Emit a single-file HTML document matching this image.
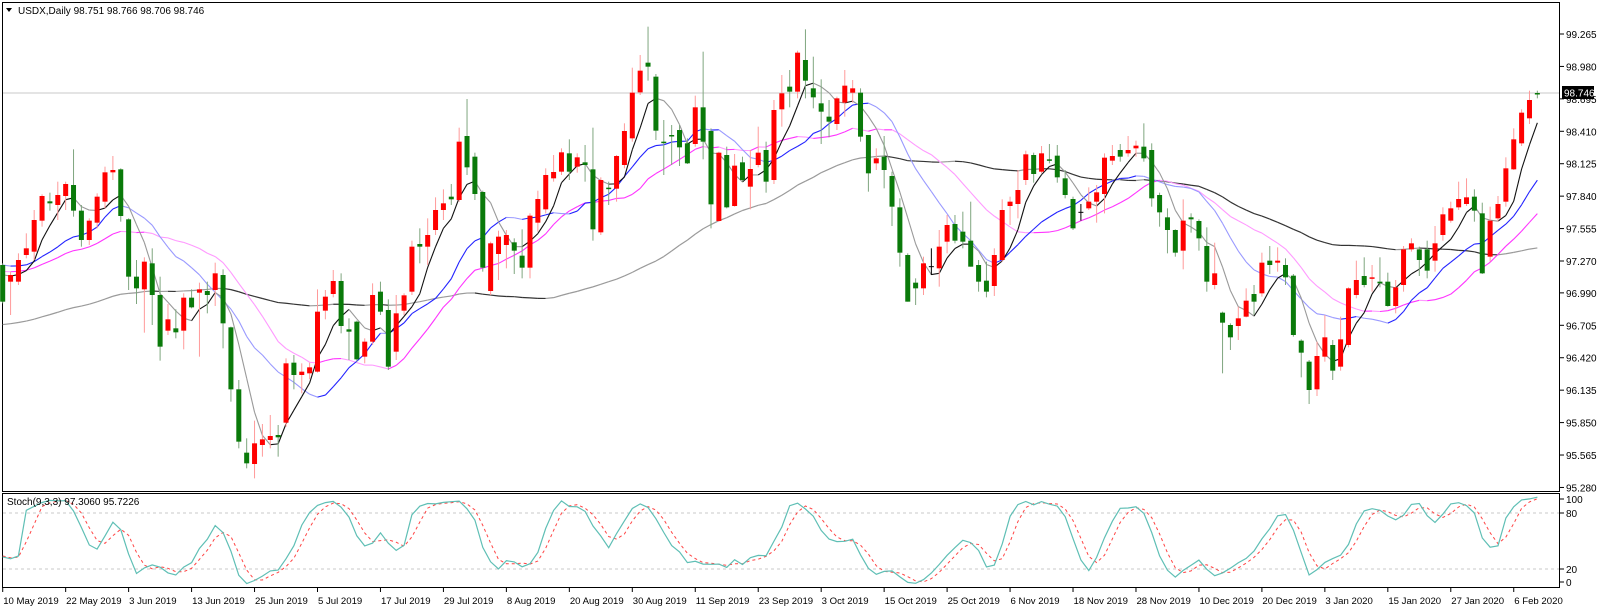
<!DOCTYPE html>
<html><head><meta charset="utf-8">
<style>
html,body{margin:0;padding:0;background:#fff;}
svg{display:block;}
text{font-family:"Liberation Sans",sans-serif;}
</style></head>
<body>
<svg id="c" width="1600" height="609" xmlns="http://www.w3.org/2000/svg"></svg>
<script>
var D=[795,905,790,910, 845,825,815,945, 845,780,760,855, 765,745,700,775, 755,660,630,780, 662,588,583,680, 604,610,578,632, 615,585,545,660, 588,552,545,630, 555,632,448,650,
632,720,615,740, 720,662,655,735, 668,590,580,685, 605,517,500,625, 517,510,468,540, 508,648,505,665, 658,830,655,870, 830,865,780,912, 868,785,772,998, 790,885,745,975,
885,1040,830,1082, 992,958,912,1005, 985,997,928,1015, 992,893,880,1048, 893,922,868,925, 878,868,848,1070, 873,885,845,940, 870,820,788,918, 825,970,808,1045, 982,1168,980,1205,
1168,1325,1140,1345, 1358,1390,1315,1405, 1392,1330,1262,1435, 1335,1318,1272,1370, 1320,1308,1245,1345, 1305,1312,1275,1370, 1268,1090,1075,1280, 1088,1125,1065,1168, 1125,1115,1090,1180, 1120,1102,1088,1138,
1115,935,868,1118, 932,890,870,958, 882,843,810,892, 843,978,820,1000, 988,995,955,1080, 965,1078,962,1085, 1070,1025,1015,1090, 1025,885,850,1035, 875,935,845,945, 930,1100,898,1110,
1055,940,885,1080, 932,886,880,945, 875,740,722,885, 732,740,685,790, 740,705,655,795, 690,630,592,705, 630,610,568,660, 590,598,552,615, 600,425,383,605, 408,502,297,525,
470,582,458,600, 576,803,572,815, 873,730,725,885, 762,710,692,840, 735,705,690,805, 727,752,715,822, 767,803,688,835, 803,647,640,835, 668,597,572,695, 628,525,505,640,
535,516,465,545, 515,457,445,525, 460,515,418,540, 500,472,460,518, 487,495,435,545, 508,688,383,722, 697,540,532,705, 563,567,545,615, 566,468,465,605, 495,393,370,505,
415,278,203,425, 277,212,165,285, 188,200,80,242, 230,392,222,420, 425,428,360,525, 405,408,375,495, 390,442,375,498, 430,490,415,492, 432,322,287,440, 322,425,155,478,
393,613,385,685, 663,458,455,665, 465,622,440,625, 618,497,462,620, 487,540,470,545, 560,507,450,628, 495,458,380,502, 450,545,425,578, 540,330,300,552, 328,280,225,380,
260,275,210,322, 275,158,152,295, 180,242,88,295, 265,292,170,325, 310,335,238,432, 350,365,300,412, 372,295,290,390, 308,257,210,350, 278,265,240,308, 278,410,265,425,
405,520,405,575, 490,475,445,510, 470,510,408,565, 528,620,515,678, 622,758,595,800, 765,905,760,905, 848,865,835,915, 865,790,770,885, 800,800,745,825, 805,740,690,860,
725,675,645,760, 672,722,645,730, 695,725,635,745, 722,800,605,800, 795,845,780,875, 842,875,785,892, 858,765,745,888, 780,630,598,785, 618,605,590,675, 612,570,510,655,
540,463,452,555, 465,522,458,548, 515,460,438,520, 478,482,432,490, 467,532,435,548, 535,585,510,595, 597,685,590,690, 637,637,612,662, 625,605,562,630, 605,577,555,668,
582,473,460,640, 482,468,435,495, 450,470,432,485, 460,450,408,470, 445,437,422,470, 440,475,370,485, 450,595,430,620, 585,637,578,680, 652,690,625,760, 690,758,688,770,
752,662,598,808, 652,658,640,698, 663,715,658,752, 738,845,682,875, 855,820,728,868, 938,968,935,1120, 975,1012,970,1050, 978,955,920,1020, 950,902,865,952, 882,905,855,945,
880,788,758,890, 782,795,738,822, 788,782,742,815, 795,832,775,855, 827,1005,822,1010, 1022,1058,1018,1132, 1085,1170,1080,1212, 1168,1068,1025,1188, 1070,1012,945,1085, 1035,1112,1020,1140,
1100,1018,950,1112, 1035,865,862,1042, 885,840,782,895, 828,855,772,862, 835,832,795,875, 845,850,772,862, 845,918,818,920, 918,862,840,940, 855,748,738,875, 748,730,715,755,
748,780,740,828, 748,812,722,835, 782,730,678,815, 705,643,622,722, 662,625,605,668, 622,597,545,630, 612,592,535,618, 590,632,568,665, 640,820,608,822, 770,662,620,785,
655,612,588,665, 605,505,472,620, 508,418,385,510, 430,338,328,438, 355,300,272,372, 279,282,272,295];
var N=D.length/4,O=[],C=[],H=[],L=[];
for(var i=0;i<N;i++){O.push(D[4*i]/3);C.push(D[4*i+1]/3);H.push(D[4*i+2]/3);L.push(D[4*i+3]/3);}
function X(i){return 2.7+7.87*i;}
var s='';
s+='<rect x="2.5" y="2.5" width="1557" height="489" fill="none" stroke="#000" stroke-width="1"/>';
s+='<rect x="2.5" y="493.5" width="1557" height="94" fill="none" stroke="#000" stroke-width="1"/>';
var P=[99.265,98.980,98.695,98.410,98.125,97.840,97.555,97.270,96.990,96.705,96.420,96.135,95.850,95.565,95.280];
P.forEach(function(p){var y=34+(99.265-p)/0.285*32.43;s+='<line x1="1560" y1="'+y+'" x2="1564" y2="'+y+'" stroke="#000"/><text x="1566" y="'+(y+4)+'" font-size="10" fill="#000">'+p.toFixed(3)+'</text>';});
s+='<line x1="3" y1="93" x2="1559" y2="93" stroke="#c8c8c8" stroke-width="1"/>';
s+='<rect x="1562" y="86" width="32" height="13" fill="#000"/><text x="1564" y="96.5" font-size="10" fill="#fff">98.746</text>';
s+='<polygon points="6,8 12,8 9,12" fill="#000"/><text x="18" y="14" font-size="10" fill="#000">USDX,Daily  98.751 98.766 98.706 98.746</text>';
function sma(per,pad){var r=[];for(var i=0;i<N;i++){var t=0;for(var k=i-per+1;k<=i;k++)t+=(k<0?pad:C[k]);r.push(t/per);}return r;}
function drawMA(a,cUp,cDn,w){for(var i=1;i<N;i++){var col=a[i]<a[i-1]?cUp:cDn;s+='<line x1="'+X(i-1)+'" y1="'+a[i-1]+'" x2="'+X(i)+'" y2="'+a[i]+'" stroke="'+col+'" stroke-width="'+w+'"/>';}}
drawMA(sma(55,325),'#9a9a9a','#333',1.2);
drawMA(sma(21,270),'#ff33ff','#ff99ff',1.1);
drawMA(sma(13,262),'#2222ff','#9999ff',1.1);
drawMA(sma(5,268),'#111','#999',1.1);
for(var i=0;i<N;i++){var x=X(i),up=C[i]<O[i];var wc=up?'#ff9a9a':'#7fa67f';var bc=up?'#ff0000':'#0a7a0a';
 if(Math.abs(C[i]-O[i])<0.5){s+='<line x1="'+x+'" y1="'+H[i]+'" x2="'+x+'" y2="'+L[i]+'" stroke="#000"/><line x1="'+(x-2.5)+'" y1="'+C[i]+'" x2="'+(x+2.5)+'" y2="'+C[i]+'" stroke="#000"/>';continue;}
 s+='<line x1="'+x+'" y1="'+H[i]+'" x2="'+x+'" y2="'+L[i]+'" stroke="'+wc+'" stroke-width="1"/>';
 var t=Math.min(O[i],C[i]),h=Math.max(Math.abs(C[i]-O[i]),1.5);
 s+='<rect x="'+(x-2.5)+'" y="'+t+'" width="5" height="'+h+'" fill="'+bc+'"/>';}
function SY(v){return 587.7-0.933*v;}
s+='<line x1="3" y1="'+SY(80)+'" x2="1559" y2="'+SY(80)+'" stroke="#c8c8c8" stroke-dasharray="3,3"/>';
s+='<line x1="3" y1="'+SY(20)+'" x2="1559" y2="'+SY(20)+'" stroke="#c8c8c8" stroke-dasharray="3,3"/>';
[[100,499],[80,513],[20,569],[0,582]].forEach(function(a){s+='<line x1="1560" y1="'+a[1]+'" x2="1564" y2="'+a[1]+'" stroke="#000"/><text x="1566" y="'+(a[1]+4)+'" font-size="10" fill="#000">'+a[0]+'</text>';});
var num=[],den=[],K=[],Dd=[];
for(var i=0;i<N;i++){var hh=1e9,ll=-1e9;for(var k=Math.max(0,i-8);k<=i;k++){hh=Math.min(hh,H[k]);ll=Math.max(ll,L[k]);}num.push(ll-C[i]);den.push(ll-hh);}
for(var i=0;i<N;i++){var a=0,b=0;for(var k=Math.max(0,i-2);k<=i;k++){a+=num[k];b+=den[k];}K.push(b>0?100*a/b:50);}
K[0]=33;K[1]=31;K[2]=34;if(K[3]<40)K[3]=45;
for(var i=0;i<N;i++){var a=0,c=0;for(var k=Math.max(0,i-2);k<=i;k++){a+=K[k];c++;}Dd.push(a/c);}
Dd[0]=34;Dd[1]=32;
var pd='',pk='';for(var i=0;i<N;i++){pd+=(i?'L':'M')+X(i).toFixed(1)+' '+SY(Dd[i]).toFixed(1);pk+=(i?'L':'M')+X(i).toFixed(1)+' '+SY(K[i]).toFixed(1);}
s+='<path d="'+pd+'" fill="none" stroke="#ff4444" stroke-width="1" stroke-dasharray="3,3"/>';
s+='<path d="'+pk+'" fill="none" stroke="#5fbfb5" stroke-width="1.2"/>';
s+='<text x="7" y="505" font-size="10" fill="#000">Stoch(9,3,3) 97.3060 95.7226</text>';
var dates=['10 May 2019','22 May 2019','3 Jun 2019','13 Jun 2019','25 Jun 2019','5 Jul 2019','17 Jul 2019','29 Jul 2019','8 Aug 2019','20 Aug 2019','30 Aug 2019','11 Sep 2019','23 Sep 2019','3 Oct 2019','15 Oct 2019','25 Oct 2019','6 Nov 2019','18 Nov 2019','28 Nov 2019','10 Dec 2019','20 Dec 2019','3 Jan 2020','15 Jan 2020','27 Jan 2020','6 Feb 2020'];
dates.forEach(function(d,k){var x=X(8*k);s+='<line x1="'+x+'" y1="588" x2="'+x+'" y2="592" stroke="#000"/><text x="'+(x+0.5)+'" y="604" font-size="9.6" fill="#000">'+d+'</text>';});
document.getElementById('c').innerHTML=s;
</script>
</body></html>
